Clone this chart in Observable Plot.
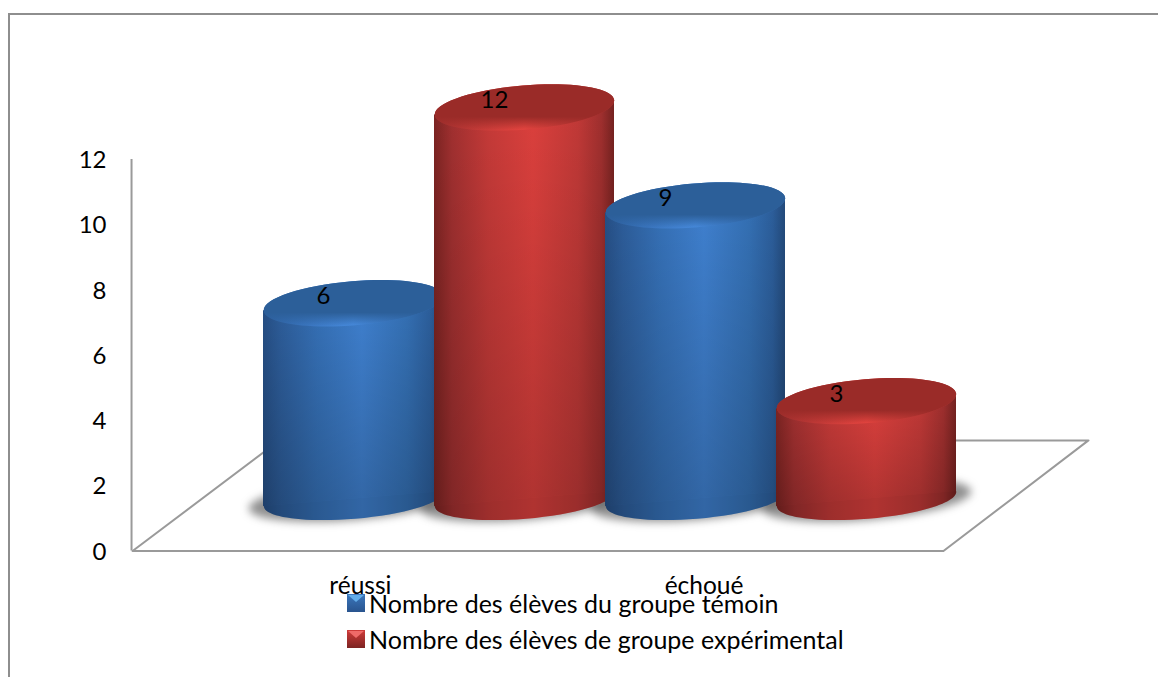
<!DOCTYPE html>
<html>
<head>
<meta charset="utf-8">
<script src="https://cdn.jsdelivr.net/npm/d3@7"></script>
<script src="https://cdn.jsdelivr.net/npm/@observablehq/plot@0.6"></script>
<style>
  html, body { margin: 0; padding: 0; background: #fff; }
  #chart { position: relative; width: 1158px; height: 677px; overflow: hidden; font-family: Lato, sans-serif; }
  #frame { position: absolute; left: 8px; top: 13px; right: -4px; bottom: -4px; border-left: 2px solid #8e8e8e; border-top: 2px solid #8e8e8e; }
  #legend { position: absolute; left: 347px; top: 585px; color: #000; font-size: 25px; line-height: 36px; }
  #legend div { display: flex; align-items: center; height: 36px; white-space: nowrap; }
  #legend svg { margin-right: 4px; flex: none; }
</style>
</head>
<body>
<div id="chart"><div id="frame"></div></div>
<script>
const categories = ["réussi", "échoué"];
const seriesNames = ["Nombre des élèves du groupe témoin", "Nombre des élèves de groupe expérimental"];
const temoin = [6, 9];
const experimental = [12, 3];
const yTicks = [0, 2, 4, 6, 8, 10, 12];
const categoryPositions = [0.04, 2.05];
const floorX = [-1.292, 3.45, 4.298, -0.433, -1.292];
const floorY = [0, 0, 3.39, 3.39, 0];
const axisPosition = -1.298;

const bars = [
  {pos: 0, value: temoin[0], s: "Blue"},
  {pos: 1, value: experimental[0], s: "Red"},
  {pos: 2, value: temoin[1], s: "Blue"},
  {pos: 3, value: experimental[1], s: "Red"}
];

const halfWidth = 90 / 171, tilt = 0.23, lift = -52;

// Tilted ellipse as a Plot dot symbol
function ellipse(ratio, theta) {
  const c = Math.cos(theta), s = Math.sin(theta), k = 0.5523;
  return {draw(ctx, size) {
    const a = Math.sqrt(size / Math.PI), b = a * ratio;
    const p = (u, v) => [u * a * c - v * b * s, u * a * s + v * b * c];
    ctx.moveTo(...p(1, 0));
    ctx.bezierCurveTo(...p(1, k), ...p(k, 1), ...p(0, 1));
    ctx.bezierCurveTo(...p(-k, 1), ...p(-1, k), ...p(-1, 0));
    ctx.bezierCurveTo(...p(-1, -k), ...p(-k, -1), ...p(0, -1));
    ctx.bezierCurveTo(...p(k, -1), ...p(1, -k), ...p(1, 0));
    ctx.closePath();
  }};
}
const theta = -Math.atan2(7.5, 90);
const face = ellipse(0.245, theta);
const base = ellipse(0.22, theta);

const faceStops = (c) => `<stop offset="0" stop-color="${c}"/><stop offset=".7" stop-color="${c}"/><stop offset=".98" stop-color="${c}" stop-opacity="0"/>`;
const defs = () => {
  const g = document.createElementNS("http://www.w3.org/2000/svg", "g");
  g.innerHTML = `<defs>
    <linearGradient id="bodyBlue"><stop offset="0" stop-color="#264f85"/><stop offset=".1" stop-color="#2d5d9a"/><stop offset=".3" stop-color="#3570b6"/><stop offset=".55" stop-color="#3f80cf"/><stop offset=".8" stop-color="#3470b4"/><stop offset=".93" stop-color="#2c5e9b"/><stop offset="1" stop-color="#234a7b"/></linearGradient>
    <linearGradient id="bodyRed"><stop offset="0" stop-color="#7c2422"/><stop offset=".1" stop-color="#a13030"/><stop offset=".3" stop-color="#c53a38"/><stop offset=".55" stop-color="#dc403d"/><stop offset=".8" stop-color="#c13937"/><stop offset=".93" stop-color="#9f2f2e"/><stop offset="1" stop-color="#752220"/></linearGradient>
    <linearGradient id="shade" x1="0" y1="0" x2="0" y2="1"><stop offset="0" stop-color="#000" stop-opacity="0"/><stop offset="1" stop-color="#000" stop-opacity=".2"/></linearGradient>
    <linearGradient id="rimBlue"><stop offset="0" stop-color="#2e62a3"/><stop offset=".5" stop-color="#4689db"/><stop offset="1" stop-color="#2f65a5"/></linearGradient>
    <linearGradient id="rimRed"><stop offset="0" stop-color="#a53130"/><stop offset=".5" stop-color="#e4443f"/><stop offset="1" stop-color="#a53130"/></linearGradient>
    <linearGradient id="faceBlue" x1="0" y1="0" x2="0" y2="1">${faceStops("#2c5f99")}</linearGradient>
    <linearGradient id="faceRed" x1="0" y1="0" x2="0" y2="1">${faceStops("#9a2b28")}</linearGradient>
  </defs>`;
  return g;
};

const barMarks = bars.flatMap((b) => {
  const side = [
    {x: b.pos - halfWidth, lo: -tilt, hi: b.value - tilt},
    {x: b.pos + halfWidth, lo: tilt, hi: b.value + tilt}
  ];
  const one = [b];
  return [
    Plot.dot(one, {x: "pos", y: 0, dy: lift, r: 90, symbol: base, fill: `url(#body${b.s})`}),
    Plot.dot(one, {x: "pos", y: 0, dy: lift, r: 90, symbol: base, fill: "#000", fillOpacity: 0.2}),
    Plot.area(side, {x1: "x", y1: "lo", y2: "hi", dy: lift, fill: `url(#body${b.s})`}),
    Plot.area(side, {x1: "x", y1: "lo", y2: "hi", dy: lift, fill: "url(#shade)"}),
    Plot.dot(one, {x: "pos", y: "value", dy: lift, r: 90, symbol: face, fill: `url(#rim${b.s})`}),
    Plot.dot(one, {x: "pos", y: "value", dy: lift, r: 90, symbol: face, fill: `url(#face${b.s})`}),
    Plot.text(one, {x: "pos", y: "value", text: "value", dx: -30, dy: lift - 7, fontSize: 24, fill: "#000"})
  ];
});

const plot = Plot.plot({
  width: 1158,
  height: 677,
  marginLeft: 131,
  marginRight: 0,
  marginTop: 0,
  marginBottom: 0,
  style: {background: "transparent", fontFamily: "Lato, sans-serif", position: "absolute", left: 0, top: 0},
  x: {domain: [0, 3], range: [353, 866], axis: null},
  y: {domain: [0, 12], range: [550.5, 159]},
  marks: [
    defs,
    Plot.axisY({ticks: yTicks, anchor: "left", tickSize: 0, tickPadding: 25, fontSize: 24, label: null, dy: 1, color: "#000"}),
    Plot.line(floorX.map((x, i) => ({x, y: floorY[i]})), {x: "x", y: "y", stroke: "#9a9a9a", strokeWidth: 2}),
    Plot.ruleX([axisPosition], {y1: 0, y2: 12, stroke: "#9a9a9a", strokeWidth: 2}),
    Plot.dot(bars, {x: "pos", y: 0, dy: lift + 1, r: 105, symbol: ellipse(0.19, theta), fill: "#555", fillOpacity: 0.65, imageFilter: "blur(4px)"}),
    ...barMarks,
    Plot.text(categories, {x: (d, i) => categoryPositions[i], y: 0, text: (d) => d, dy: 35, fontSize: 24.5, fill: "#000"})
  ]
});
document.getElementById("chart").appendChild(plot);

const swatch = (top, hi, low, id) => `<svg width="18" height="18" viewBox="0 0 18 18">
  <defs><linearGradient id="${id}" x1="0" y1="0" x2="0" y2="1"><stop offset="0" stop-color="${top}"/><stop offset="1" stop-color="${low}"/></linearGradient></defs>
  <rect width="18" height="18" fill="url(#${id})"/><polygon points="1,1 17,1 9,8" fill="${hi}"/></svg>`;
const legend = document.createElement("div");
legend.id = "legend";
legend.innerHTML = seriesNames.map((n, i) =>
  `<div>${i ? swatch("#cf3b39", "#ee6a68", "#7d2422", "sr") : swatch("#3b77bd", "#63ade9", "#29548e", "sb")}<span>${n}</span></div>`).join("");
document.getElementById("chart").appendChild(legend);
</script>
</body>
</html>
